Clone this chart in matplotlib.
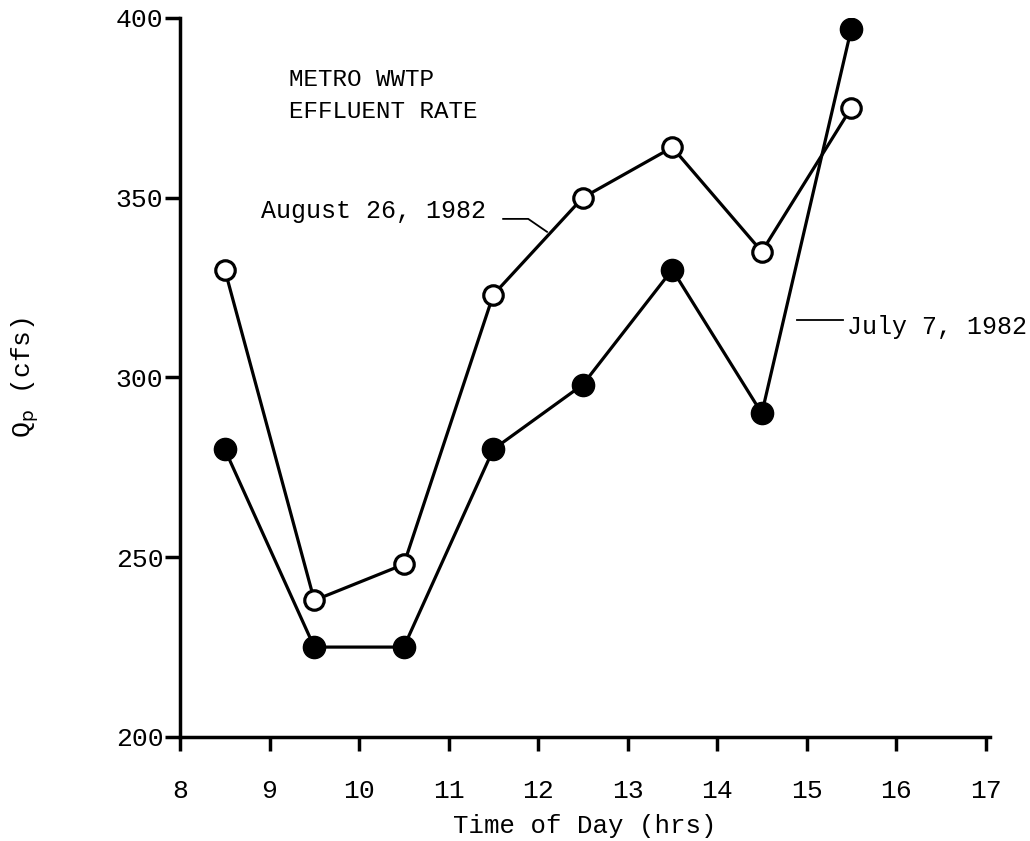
import matplotlib.pyplot as plt

# time of day (hrs)
hours = [8.5, 9.5, 10.5, 11.5, 12.5, 13.5, 14.5, 15.5]
# effluent rate, cfs
aug26 = [330, 238, 248, 323, 350, 364, 335, 375]
jul7 = [280, 225, 225, 280, 298, 330, 290, 397]

xticks = [8, 9, 10, 11, 12, 13, 14, 15, 16, 17]
yticks = [200, 250, 300, 350, 400]

plt.rcParams['font.family'] = ['Liberation Mono', 'DejaVu Sans Mono']

fig = plt.figure(figsize=(10.30, 8.41), dpi=100)
ax = fig.add_axes([0.1748, 0.1237, 0.7864, 0.855])

# August 26 (open circles)
ax.plot(hours, aug26, color='black', lw=2.3, marker='o', ms=14,
        mfc='white', mec='black', mew=2.3, zorder=3)
# July 7 (filled circles)
ax.plot(hours, jul7, color='black', lw=2.3, marker='o', ms=16,
        mfc='black', mec='black', zorder=3)

ax.set_xlim(8, 17.05)
ax.set_ylim(200, 400)
ax.set_xticks(xticks)
ax.set_yticks(yticks)
ax.spines['top'].set_visible(False)
ax.spines['right'].set_visible(False)
ax.spines['left'].set_linewidth(2.5)
ax.spines['bottom'].set_linewidth(2.5)
ax.tick_params(axis='x', direction='out', length=10, width=2.5, pad=20, labelsize=19)
ax.tick_params(axis='y', direction='out', length=11, width=2.5, pad=1, labelsize=19)

ax.set_xlabel('Time of Day (hrs)', fontsize=18.5, labelpad=8)
ax.set_ylabel('Q$_\\mathrm{p}$ (cfs)', fontsize=19, labelpad=54)

ax.text(9.22, 386, 'METRO WWTP\nEFFLUENT RATE', fontsize=17.5,
        va='top', ha='left', linespacing=1.5)

ax.text(8.91, 346.3, 'August 26, 1982', fontsize=18, va='center', ha='left')
ax.plot([11.61, 11.89, 12.1], [344.1, 344.1, 340.5], color='black', lw=1.3)

ax.text(15.45, 314, 'July 7, 1982', fontsize=18, va='center', ha='left')
ax.plot([14.89, 15.41], [316, 316], color='black', lw=1.3)

fig.savefig('out.png', dpi=100)
